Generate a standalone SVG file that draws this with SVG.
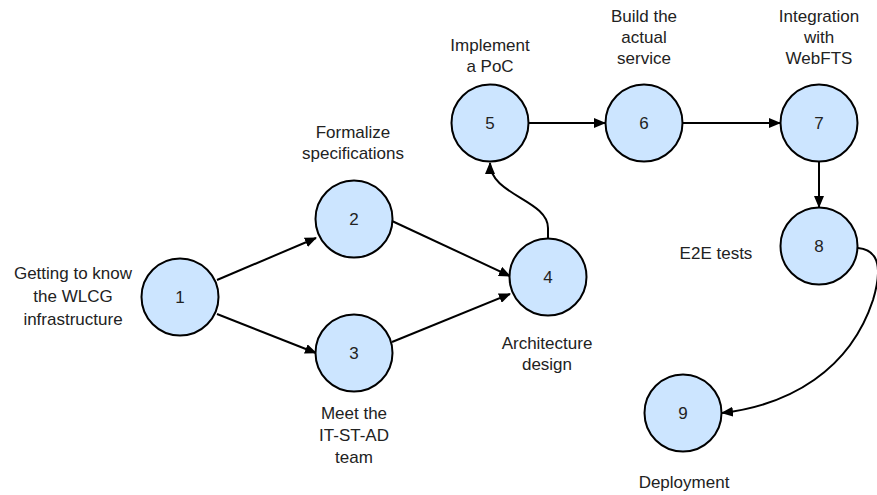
<svg xmlns="http://www.w3.org/2000/svg" width="877" height="495" viewBox="0 0 877 495">
  <defs>
    <marker id="arrow" viewBox="0 0 12 10" refX="11" refY="5" markerWidth="12" markerHeight="10" markerUnits="userSpaceOnUse" orient="auto">
      <path d="M0,0 L12,5 L0,10 Z" fill="#000"/>
    </marker>
    <style>
      .node circle { fill: #cce5ff; stroke: #000; stroke-width: 2; }
      .node text, .label { font-family: "Liberation Sans", Arial, sans-serif; font-size: 17px; fill: #222; text-anchor: middle; }
      .edge { fill: none; stroke: #000; stroke-width: 2; marker-end: url(#arrow); }
    </style>
  </defs>
  <rect width="877" height="495" fill="#fff"/>

  <g id="connectors">
    <path class="edge" d="M217,280 L316,238"/>
    <path class="edge" d="M217,314 L316,353"/>
    <path class="edge" d="M392,221 L510,276"/>
    <path class="edge" d="M392,342 L510,294"/>
    <path class="edge" d="M548,238 L548,228 C548,200 490,195 490,163"/>
    <path class="edge" d="M528,123 L605,123"/>
    <path class="edge" d="M683,123 L780,123"/>
    <path class="edge" d="M819,162 L819,207"/>
    <path class="edge" d="M858,248 C880,250 882,270 873,300 C850,370 790,405 722,413"/>
  </g>

  <g id="node1" class="node">
    <circle cx="180" cy="297" r="38.5"/>
    <text x="180" y="303">1</text>
  </g>
  <g id="node2" class="node">
    <circle cx="354" cy="219" r="38.5"/>
    <text x="354" y="225">2</text>
  </g>
  <g id="node3" class="node">
    <circle cx="354" cy="353" r="38.5"/>
    <text x="354" y="359">3</text>
  </g>
  <g id="node4" class="node">
    <circle cx="548" cy="277" r="38.5"/>
    <text x="548" y="283">4</text>
  </g>
  <g id="node5" class="node">
    <circle cx="490" cy="123" r="38.5"/>
    <text x="490" y="129">5</text>
  </g>
  <g id="node6" class="node">
    <circle cx="644" cy="123" r="38.5"/>
    <text x="644" y="129">6</text>
  </g>
  <g id="node7" class="node">
    <circle cx="819" cy="123" r="38.5"/>
    <text x="819" y="129">7</text>
  </g>
  <g id="node8" class="node">
    <circle cx="819" cy="246" r="38.5"/>
    <text x="819" y="252">8</text>
  </g>
  <g id="node9" class="node">
    <circle cx="683" cy="413" r="38.5"/>
    <text x="683" y="419">9</text>
  </g>

  <g id="labels">
    <text class="label" x="73" y="279">Getting to know</text>
    <text class="label" x="73" y="302">the WLCG</text>
    <text class="label" x="73" y="325">infrastructure</text>

    <text class="label" x="353" y="138">Formalize</text>
    <text class="label" x="353" y="159">specifications</text>

    <text class="label" x="354" y="419">Meet the</text>
    <text class="label" x="354" y="441">IT-ST-AD</text>
    <text class="label" x="354" y="463">team</text>

    <text class="label" x="547" y="349">Architecture</text>
    <text class="label" x="547" y="370">design</text>

    <text class="label" x="490" y="51">Implement</text>
    <text class="label" x="490" y="72">a PoC</text>

    <text class="label" x="644" y="22">Build the</text>
    <text class="label" x="644" y="43">actual</text>
    <text class="label" x="644" y="64">service</text>

    <text class="label" x="819" y="22">Integration</text>
    <text class="label" x="819" y="43">with</text>
    <text class="label" x="819" y="64">WebFTS</text>

    <text class="label" x="716" y="259">E2E tests</text>

    <text class="label" x="684" y="488">Deployment</text>
  </g>
</svg>
